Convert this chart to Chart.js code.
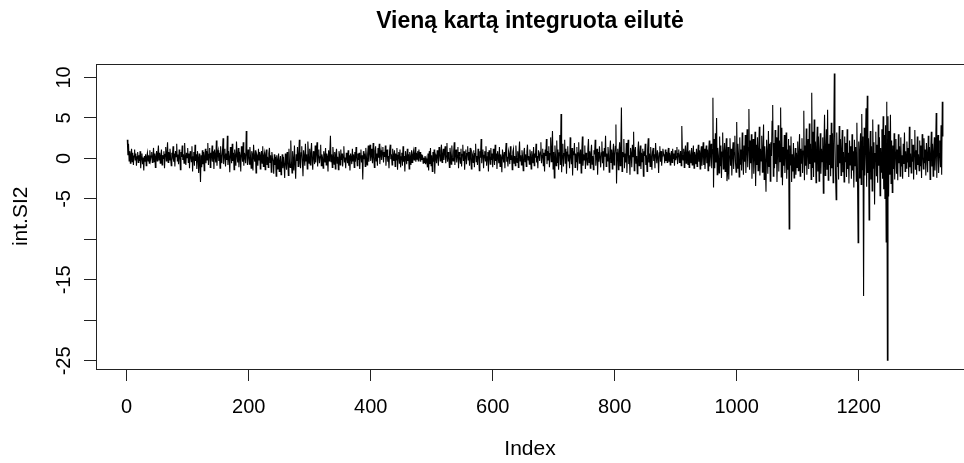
<!DOCTYPE html>
<html>
<head>
<meta charset="utf-8">
<title>Vieną kartą integruota eilutė</title>
<script src="https://cdn.jsdelivr.net/npm/chart.js@4"></script>
<style>
  html, body { margin: 0; padding: 0; background: #fff; overflow: hidden; }
  #wrap { width: 964px; height: 463px; }
</style>
</head>
<body>
<div id="wrap"><canvas id="myChart" width="964" height="463"></canvas></div>
<script>
// int.SI2 reiksmes, indeksai 1..1338 (nuskaityta is paveikslo)
const intSI2 = [
  2.3, 0.4, 1.8, -0.3, 0.9, -0.6, 0.5, 1.2, -0.4, 0.7, -0.8, 0.3, 1.1, -0.2, 0.6, -0.9, 0.2, 0.8, -0.5, 0.4,
  -0.3, 0.9, -1.2, 0.2, 0.6, -0.7, 0.1, -1.5, 0.3, -0.4, 0.5, -0.9, 0.2, 0.7, -0.3, 0.4, -0.6, 1.0, -0.2, 0.3,
  0.8, -0.5, 0.1, 1.3, -0.4, 0.6, -1.1, 0.2, 0.9, -0.3, 0.5, 1.6, -0.2, 0.7, -0.6, 0.3, 1.1, -0.8, 0.4, 0.0,
  0.9, -1.2, 0.5, 1.4, -0.3, 0.6, 2.0, -0.5, 0.8, -0.2, 1.2, 0.1, -0.9, 0.7, 0.3, 1.5, -0.4, 0.6, -1.0, 0.9,
  0.2, 1.8, -0.3, 0.5, -0.7, 1.1, 0.4, -1.4, 0.8, 0.2, 1.6, -0.2, 0.5, -0.6, 1.9, 0.3, -0.8, 0.7, 0.1, 1.3,
  -0.5, 0.6, -1.2, 0.9, 0.3, -0.4, 1.5, -1.6, 0.2, 0.8, -0.9, 1.7, -0.3, 0.5, -1.3, 0.9, 0.1, -1.8, 0.6, -0.5,
  -2.9, 0.4, -1.1, 1.0, -0.7, 0.8, -1.5, 0.3, 1.2, -0.6, 0.9, -0.2, 1.9, -0.8, 0.5, 1.3, -1.1, 0.7, 0.2, 1.6,
  -0.4, 0.9, -1.3, 1.1, 0.3, -0.5, 2.2, -0.9, 0.6, 1.0, -0.3, 0.7, -1.2, 1.5, 0.2, -0.6, 0.8, 2.5, -0.7, 0.4,
  1.2, -1.0, 0.6, -0.2, 2.8, -0.8, 0.9, 0.1, -1.7, 1.4, 0.5, -0.6, 1.8, -0.3, 0.7, -1.4, 1.1, 0.2, -0.9, 2.1,
  0.4, -0.5, 1.3, -1.1, 0.8, 0.3, -1.6, 1.5, 0.6, -0.4, 2.0, -0.9, 0.7, 0.2, -0.6, 3.4, 0.5, -0.8, 1.1, 0.3,
  -0.7, 1.4, 0.2, -1.2, 0.9, 0.5, -1.5, 1.7, 0.1, -0.4, 1.0, -1.8, 0.6, 0.3, -0.9, 1.2, -0.2, 0.8, -1.3, 0.4,
  0.9, -0.6, 1.5, -1.0, 0.3, 0.7, -1.4, 0.5, 1.1, -0.8, 0.2, -1.1, 0.6, 1.3, -0.5, 0.4, -1.7, 0.8, 0.1, -0.3,
  -1.9, 0.5, -0.8, 0.2, -2.2, 0.4, -1.3, -0.2, 0.6, -1.6, -0.4, 0.3, -2.0, -0.7, 0.5, -1.2, 0.2, -0.9, -2.4, 0.6,
  -0.5, -1.4, 0.8, -0.3, -2.1, 1.2, -0.6, -1.1, 2.2, -0.4, -1.8, 0.9, -0.2, -1.5, 1.6, -0.7, -2.5, 0.5, -0.3, 1.4,
  -1.0, 0.3, 2.3, -0.6, -1.2, 0.7, 1.5, -0.4, -2.2, 1.0, 0.2, -0.9, 1.8, -0.3, 0.5, -1.3, 2.1, 0.4, -0.6, 1.2,
  -0.8, 0.6, 1.9, -0.2, -1.4, 0.9, 0.3, -0.7, 1.6, -0.5, 0.8, 2.0, -1.0, 0.4, 1.1, -0.6, 0.2, 1.7, -0.9, 0.5,
  0.1, -1.2, 0.9, 0.4, -0.5, 1.3, -0.8, 0.6, 0.2, -1.6, 1.0, -0.3, 0.7, 2.8, -0.4, 0.5, -1.1, 1.4, 0.3, -0.7,
  0.8, -1.3, 0.5, 1.2, -0.6, 0.2, -1.4, 0.9, 0.4, -0.8, 1.1, -0.2, 0.6, -1.0, 0.3, 1.5, -0.5, 0.1, -1.2, 0.7,
  0.2, -0.6, 1.0, -0.9, 0.4, -1.5, 0.6, 0.1, -0.7, 1.2, -0.3, 0.5, -1.1, 0.8, -0.4, 1.4, 0.2, -0.9, 0.6, -0.2,
  0.7, -1.3, 0.3, 1.1, -0.5, 0.4, -2.6, 0.9, -0.1, 0.6, -1.0, 1.3, 0.2, -0.8, 0.5, 1.6, -0.4, 0.8, 1.7, -0.3,
  1.2, 0.4, -0.6, 1.9, 0.2, -1.1, 0.9, 1.5, -0.3, 0.6, -0.9, 1.3, 0.1, 1.8, -0.7, 0.5, 1.0, -0.2, 0.7, 1.4,
  -0.5, 0.8, 0.2, 1.6, -0.9, 0.6, 1.1, -0.4, 0.3, -1.2, 0.9, 1.7, -0.1, 0.5, -0.8, 1.2, 0.4, -0.3, 1.0, -1.0,
  0.6, -0.2, 1.3, -1.4, 0.4, 0.8, -0.6, 1.1, -1.1, 0.2, 0.7, -0.9, 1.5, -0.4, 0.3, -1.6, 0.9, 0.1, -0.7, 1.2,
  -0.3, 0.5, -1.3, 0.8, 0.2, -0.8, 1.0, -0.5, 0.4, 0.9, -0.2, 0.6, 1.4, -0.4, 0.7, -0.1, 0.9, -0.3, 1.1, 0.2,
  0.8, -0.4, 0.5, -0.2, 0.4, -0.6, 0.1, -0.5, 0.3, -0.7, 0.0, -0.4, -1.1, 0.6, -1.5, 0.9, -0.7, 1.3, -0.9, 0.4,
  -1.6, 0.8, -0.4, 1.1, -1.9, 0.5, 0.2, -0.6, 1.0, 0.3, -0.9, 1.4, 0.6, -0.3, 0.9, 1.7, -0.5, 0.4, 1.2, -0.2,
  0.7, 1.5, -0.6, 0.3, 1.9, -0.4, 0.8, 0.2, -1.1, 1.3, 0.5, -0.7, 1.6, 0.1, -0.3, 0.9, 2.0, -0.8, 0.6, 1.1,
  -0.5, 0.4, 1.4, -1.2, 0.8, 0.2, -0.6, 1.2, -1.0, 0.5, 1.7, -0.3, 0.9, -1.4, 0.3, 1.1, -0.7, 0.6, 1.5, -0.2,
  0.8, -0.9, 1.3, 0.2, -1.3, 0.7, 0.4, -0.5, 1.0, -1.1, 0.6, 1.8, -0.4, 0.3, -0.8, 1.2, 0.5, -1.5, 0.9, 0.1,
  2.4, -0.6, 0.7, 1.1, -1.2, 0.4, 0.9, -0.3, 1.5, -0.9, 0.2, 0.8, -1.6, 1.0, 0.3, -0.7, 1.3, -0.2, 0.6, -1.1,
  1.2, 0.4, -0.8, 1.7, -0.3, 0.6, -1.3, 0.9, 0.2, -0.6, 1.4, -1.0, 0.5, 0.1, -1.7, 1.1, 0.3, -0.5, 0.8, -1.2,
  0.7, 1.9, -0.4, 0.2, -1.0, 0.9, 0.5, -0.7, 1.5, -0.2, 0.4, -1.4, 0.8, 1.2, -0.6, 0.3, -0.9, 1.6, 0.1, -0.5,
  0.9, -1.1, 0.6, 2.1, -0.3, 0.4, -0.8, 1.0, 0.2, -1.5, 0.7, 1.3, -0.4, 0.5, -1.0, 0.8, 1.7, -0.2, 0.3, -0.7,
  1.1, 0.4, -1.3, 0.9, 0.2, -0.6, 1.4, -0.9, 0.6, 0.1, 1.8, -0.5, 0.3, -1.2, 1.0, 0.5, -0.3, 0.8, 2.0, -0.6,
  0.4, 1.2, -0.9, 0.7, -1.6, 1.1, 0.3, 2.4, -0.7, 0.9, -0.2, 1.5, -1.1, 0.6, 2.6, -0.4, 1.0, 3.4, -1.3, 0.8,
  -2.4, 1.6, 0.3, -0.9, 2.2, -0.5, 1.1, -1.4, 0.7, 2.9, -0.8, 5.5, -1.7, 0.4, 1.8, -1.0, 0.6, 2.3, -0.6, 1.2,
  -1.9, 0.8, 1.5, -0.3, 0.5, -1.2, 2.6, 0.2, -0.7, 1.3, -2.1, 0.9, 0.4, 1.9, -1.1, 0.6, -0.4, 1.4, -1.5, 0.7,
  2.0, -0.6, 0.3, 1.1, -1.8, 0.8, 2.7, -0.9, 0.5, -0.2, 1.6, -1.3, 0.7, 0.2, -0.8, 1.2, 2.4, -0.5, 0.9, -1.2,
  0.6, 1.7, -0.7, 0.3, -1.4, 1.0, 0.5, 2.3, -0.9, 0.4, 1.2, -2.0, 0.8, -0.4, 1.5, 0.1, -1.1, 0.7, 2.1, -0.6,
  0.9, -1.5, 1.3, 0.2, 2.8, -1.0, 0.6, -0.3, 1.4, 0.4, -1.7, 0.9, 2.2, -0.5, 1.1, -1.3, 0.6, 1.8, -0.8, 0.3,
  1.5, 4.2, -3.1, 0.7, 1.2, -1.4, 0.5, 2.0, -0.9, 1.1, 6.3, -1.6, 0.8, 0.2, 2.4, -1.2, 0.6, -0.5, 1.9, -1.8,
  0.9, 2.3, -0.7, 0.4, -2.0, 1.3, 0.6, -1.1, 1.7, 0.2, 3.3, -1.5, 0.8, 1.4, -0.6, 0.3, -1.9, 1.0, 2.1, -0.9,
  0.5, 1.6, -1.3, 0.7, -0.4, 1.2, -2.2, 0.9, 0.3, 1.8, -0.8, 0.4, -1.6, 1.1, 2.5, -0.5, 0.6, -1.0, 1.4, 0.2,
  -1.4, 0.8, 1.3, -0.3, 0.5, -1.2, 1.9, 0.4, -0.6, 1.0, 0.2, -1.8, 0.7, 1.5, -0.4, 0.9, -0.9, 0.3, 1.2, 0.6,
  0.4, -0.6, 1.1, -0.3, 0.8, -0.5, 0.6, 1.3, -0.4, 0.7, -0.8, 0.3, 0.9, -0.5, 1.2, 0.0, 0.6, -0.9, 1.0, -0.2,
  0.2, 1.4, -0.7, 0.6, 1.1, -0.5, 0.3, 0.9, -0.9, 4.0, 0.5, -0.2, 1.2, -1.1, 0.7, 1.6, -0.6, 0.4, 2.0, -0.8,
  0.9, -1.1, 1.0, 0.2, -0.6, 1.3, -0.8, 0.5, 1.6, -1.2, 0.8, 0.3, -0.7, 1.2, -1.0, 0.6, 1.7, -0.4, 1.0, -1.3,
  0.7, 1.5, -0.9, 0.4, 2.0, -0.8, 1.2, -1.3, 0.5, 1.6, -0.6, 1.1, -1.5, 0.9, 2.2, -1.0, 0.6, 1.8, -1.2, 1.1,
  7.5, -3.6, 2.4, -1.2, 3.1, -0.5, 5.0, -2.0, 1.3, 0.4, -1.8, 2.7, -0.9, 1.6, -2.4, 0.8, 3.2, -1.3, 0.5, 1.9,
  -1.6, 0.9, 2.5, -2.8, -1.9, 1.4, -2.6, 0.3, 2.5, -0.9, 1.2, -2.1, 0.6, 2.0, -1.3, 0.7, 2.8, -0.5, -1.7, 4.5,
  -1.2, 1.8, 0.4, -2.3, 2.6, -0.7, 1.1, -1.5, 3.2, 0.2, -2.0, 1.6, -0.4, 2.9, -1.8, 0.9, 3.6, -1.1, 1.3, 6.1,
  -1.4, 2.2, -0.6, 3.0, -2.5, 1.0, 2.4, -1.9, 0.5, 3.3, -3.4, 1.7, -0.8, 2.6, -1.5, 0.7, 3.9, -2.1, 1.2, -0.3,
  2.8, -1.7, 0.9, 4.2, -2.6, 1.5, -0.5, -4.1, 2.3, 0.6, -1.9, 3.4, -1.0, 1.8, -2.8, 2.0, 0.3, 4.6, 6.6, -2.2,
  1.9, -1.2, 3.5, -0.7, 2.6, -2.9, 0.8, 4.1, -1.6, 2.2, -0.4, 6.3, -2.3, 3.8, -3.3, 1.4, -0.9, 2.9, -1.8, 0.6,
  3.2, -2.5, 1.1, -1.4, 2.4, -8.7, 1.6, -0.8, 2.7, -2.9, 0.5, -1.6, 1.9, -2.4, -0.3, 1.3, -2.0, 0.7, -1.1, 2.1,
  -1.5, 0.4, 3.0, -2.2, 1.2, -0.6, 2.5, -1.8, 0.9, 5.9, -2.7, 1.6, -0.9, 3.7, -2.0, 0.8, 2.4, -1.3, 4.3, -0.7,
  1.8, -2.6, 8.1, -1.1, 3.3, -2.3, 4.8, -0.5, 2.1, -3.0, 1.4, 3.9, -1.6, 2.7, -2.8, 0.6, 3.1, -1.9, 1.2, -0.4,
  2.6, -4.3, 1.5, 5.4, -2.1, 0.9, 3.6, -1.4, 6.0, -2.7, 1.8, -0.8, 2.9, -2.2, 4.4, -1.2, 3.1, -3.0, 1.6, 10.5,
  2.3, -1.9, -5.1, 3.2, -1.0, 1.7, -2.6, 4.0, -0.6, 2.4, -2.1, 1.1, 3.5, -1.7, 0.8, -2.9, 2.7, -0.4, 1.9, -2.3,
  3.6, -1.3, 0.7, -3.1, 2.2, -0.8, 1.5, -2.5, 3.0, -1.5, 0.9, -3.6, 2.3, -0.9, 1.4, -2.8, 4.4, -1.8, -10.4, 2.1,
  -2.4, 1.0, 3.1, -3.2, 5.5, -1.4, 2.7, -17.0, 3.8, -2.1, 1.2, 6.2, -3.5, 7.75, -1.8, 2.5, -7.6, 0.8, 3.4, -2.6,
  1.5, -4.0, 4.8, -1.2, 2.0, -5.7, 0.6, 3.3, -2.2, 1.7, -3.0, 4.2, -0.9, 2.6, -4.6, 1.3, -1.7, 3.6, -2.5, 5.2,
  -3.8, 2.9, -5.0, 4.1, -10.3, 7.0, -24.9, 5.2, -4.7, 3.4, -2.0, 5.4, -3.1, 2.2, -4.2, 1.6, -1.3, 3.1, -2.6, 0.8,
  2.4, -1.9, 1.1, -2.7, 3.0, -0.6, 1.5, -2.2, 2.6, -1.0, 0.4, -2.5, 1.8, -0.7, 3.2, -1.6, 0.9, -1.2, 2.1, -0.5,
  1.3, -2.3, 3.9, -1.1, 0.6, -1.8, 2.4, -0.4, 1.7, -2.6, 0.8, 3.5, -1.4, 1.0, -2.0, 2.7, -0.8, 0.5, -1.5, 2.2,
  -0.9, 1.6, -2.4, 3.0, 0.3, -1.3, 2.5, -0.6, 1.1, -2.1, 1.9, 0.4, -1.7, 2.8, -0.3, 1.4, -2.6, 0.7, 3.3, -1.0,
  1.8, -2.2, 0.9, 2.6, -1.5, 0.5, 5.6, -2.4, 1.3, 2.9, -1.8, 0.6, 2.2, -1.1, 4.1, -2.0, 7.0, 2.7
];

const xTicks = [0, 200, 400, 600, 800, 1000, 1200];
const yTicks = [-25, -20, -15, -10, -5, 0, 5, 10];
const yTickLabels = ['-25', '', '-15', '', '-5', '0', '5', '10'];

const pavadinimas = 'Vieną kartą integruota eilutė';
const xPavadinimas = 'Index';
const yPavadinimas = 'int.SI2';

const taskai = intSI2.map((v, i) => ({ x: i + 1, y: v }));

const sriftas = "'Liberation Sans', Arial, sans-serif";
const ASIS = '#222';

// R stiliaus remelis (desinysis krastas nukirptas)
const remelis = {
    id: 'remelis',
    afterDraw(chart) {
        const { ctx, chartArea } = chart;
        ctx.save();
        ctx.strokeStyle = ASIS;
        ctx.lineWidth = 1;
        ctx.strokeRect(Math.round(chartArea.left) + 0.5, Math.round(chartArea.top) + 0.5,
            chartArea.right - chartArea.left + 10, Math.round(chartArea.bottom - chartArea.top));
        ctx.restore();
    }
};

Chart.defaults.font.family = sriftas;
Chart.defaults.color = '#000';

new Chart(document.getElementById('myChart'), {
    type: 'line',
    data: {
        datasets: [{
            label: yPavadinimas,
            data: taskai,
            borderColor: '#000',
            borderWidth: 1.1,
            pointRadius: 0,
            tension: 0,
            fill: false
        }]
    },
    options: {
        responsive: false,
        animation: false,
        layout: { padding: 0 },
        plugins: {
            legend: { display: false },
            tooltip: { enabled: false },
            title: {
                display: true,
                fullSize: false,
                text: pavadinimas,
                color: '#000',
                font: { size: 23, weight: 'bold' },
                padding: { top: 8, bottom: 28 }
            }
        },
        scales: {
            x: {
                type: 'linear',
                min: -50.3,
                max: 1372.6,
                afterFit(scale) { scale.height = 94; },
                afterBuildTicks(scale) { scale.ticks = xTicks.map(v => ({ value: v })); },
                border: { display: false },
                grid: { drawOnChartArea: false, drawTicks: true, tickLength: 12, color: ASIS },
                ticks: { autoSkip: false, maxRotation: 0, font: { size: 20 }, padding: 14, color: '#000',
                    callback: (v) => String(v) },
                title: { display: true, text: xPavadinimas, font: { size: 21 }, padding: { top: 0, bottom: 1 }, color: '#000' }
            },
            y: {
                type: 'linear',
                min: -26.0,
                max: 11.71,
                afterFit(scale) { scale.width = 96; },
                afterBuildTicks(scale) { scale.ticks = yTicks.map(v => ({ value: v })); },
                border: { display: false },
                grid: { drawOnChartArea: false, drawTicks: true, tickLength: 12, color: ASIS },
                ticks: {
                    autoSkip: false,
                    minRotation: 90,
                    maxRotation: 90,
                    crossAlign: 'center',
                    padding: 5,
                    font: { size: 20 },
                    color: '#000',
                    callback: (v) => yTickLabels[yTicks.indexOf(v)]
                },
                title: { display: true, text: yPavadinimas, font: { size: 21 }, padding: { top: 9, bottom: 0 }, color: '#000' }
            }
        }
    },
    plugins: [remelis]
});
</script>
</body>
</html>
